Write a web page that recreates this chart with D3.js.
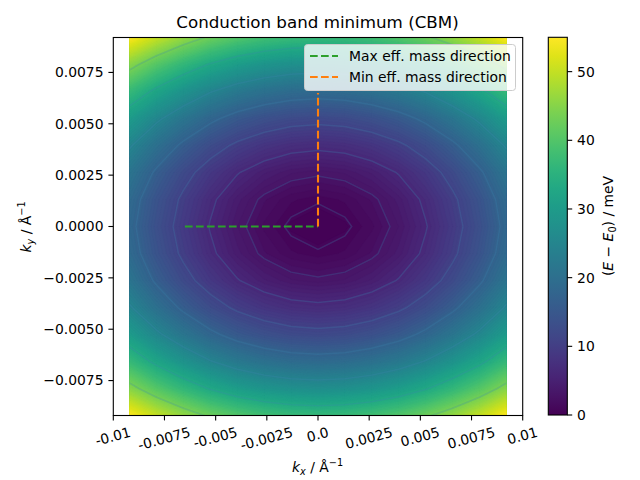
<!DOCTYPE html>
<html><head><meta charset="utf-8">
<script src="https://cdn.jsdelivr.net/npm/d3@7"></script>
<style>body{margin:0;background:#fff} text{font-family:"DejaVu Sans",sans-serif;fill:#000}</style>
</head><body><svg id="c" width="640" height="480"></svg>
<script>
// ---- data ----
const kxGrid = [-0.0092,-0.007886,-0.006571,-0.005257,-0.003943,-0.002629,-0.001314,0,0.001314,0.002629,0.003943,0.005257,0.006571,0.007886,0.0092];
const kyGrid = [-0.0092,-0.007886,-0.006571,-0.005257,-0.003943,-0.002629,-0.001314,0,0.001314,0.002629,0.003943,0.005257,0.006571,0.007886,0.0092];
// energy (meV), rows follow kyGrid, columns follow kxGrid
const energy = [
 [54.9,50.1,46.1,42.7,40.1,38.3,37.2,36.8,37.2,38.3,40.1,42.7,46.1,50.1,54.9],
 [45.1,40.3,36.3,32.9,30.3,28.5,27.4,27.0,27.4,28.5,30.3,32.9,36.3,40.3,45.1],
 [36.9,32.1,28.1,24.7,22.1,20.3,19.2,18.8,19.2,20.3,22.1,24.7,28.1,32.1,36.9],
 [30.1,25.3,21.3,17.9,15.3,13.5,12.4,12.0,12.4,13.5,15.3,17.9,21.3,25.3,30.1],
 [24.9,20.1,16.1,12.7,10.1,8.3,7.2,6.8,7.2,8.3,10.1,12.7,16.1,20.1,24.9],
 [21.1,16.3,12.3,8.9,6.3,4.5,3.4,3.0,3.4,4.5,6.3,8.9,12.3,16.3,21.1],
 [18.9,14.1,10.1,6.7,4.1,2.3,1.2,0.8,1.2,2.3,4.1,6.7,10.1,14.1,18.9],
 [18.1,13.3,9.3,5.9,3.3,1.5,0.4,0.0,0.4,1.5,3.3,5.9,9.3,13.3,18.1],
 [18.9,14.1,10.1,6.7,4.1,2.3,1.2,0.8,1.2,2.3,4.1,6.7,10.1,14.1,18.9],
 [21.1,16.3,12.3,8.9,6.3,4.5,3.4,3.0,3.4,4.5,6.3,8.9,12.3,16.3,21.1],
 [24.9,20.1,16.1,12.7,10.1,8.3,7.2,6.8,7.2,8.3,10.1,12.7,16.1,20.1,24.9],
 [30.1,25.3,21.3,17.9,15.3,13.5,12.4,12.0,12.4,13.5,15.3,17.9,21.3,25.3,30.1],
 [36.9,32.1,28.1,24.7,22.1,20.3,19.2,18.8,19.2,20.3,22.1,24.7,28.1,32.1,36.9],
 [45.1,40.3,36.3,32.9,30.3,28.5,27.4,27.0,27.4,28.5,30.3,32.9,36.3,40.3,45.1],
 [54.9,50.1,46.1,42.7,40.1,38.3,37.2,36.8,37.2,38.3,40.1,42.7,46.1,50.1,54.9]
];
const contourLevels = [0.68, 2.72, 6.11, 10.86, 16.98, 24.44, 33.27, 43.46];
const energyMax = 55;
const maxMassKx = [-0.0065, 0], maxMassKy = [0, 0];
const minMassKx = [0, 0], minMassKy = [0, 0.0065];
const xTicks = [-0.01,-0.0075,-0.005,-0.0025,0,0.0025,0.005,0.0075,0.01];
const xTickLabels = ["-0.01","-0.0075","-0.005","-0.0025","0.0","0.0025","0.005","0.0075","0.01"];
const yTicks = [-0.0075,-0.005,-0.0025,0,0.0025,0.005,0.0075];
const yTickLabels = ["\u22120.0075","\u22120.0050","\u22120.0025","0.0000","0.0025","0.0050","0.0075"];
const cbarTicks = [0,10,20,30,40,50];
const legendLabels = ["Max eff. mass direction","Min eff. mass direction"];
const legendColors = ["#2ca02c","#ff7f0e"];

// ---- layout ----
const L = 113.3, R = 522.7, T = 37.5, B = 415.5;
const FS = 13.9;
const svg = d3.select("#c");
const x = d3.scaleLinear([-0.01, 0.01], [L, R]);
const y = d3.scaleLinear([-0.0092, 0.0092], [B, T]);
const nx = kxGrid.length, ny = kyGrid.length;
const gx = d3.scaleLinear([0.5, nx - 0.5], [x(kxGrid[0]), x(kxGrid[nx - 1])]);
const gy = d3.scaleLinear([0.5, ny - 0.5], [y(kyGrid[0]), y(kyGrid[ny - 1])]);
const path = d3.geoPath(d3.geoTransform({point(px, py) { this.stream.point(gx(px), gy(py)); }}));
const flat = energy.flat();

const defs = svg.append("defs");
defs.append("clipPath").attr("id", "dclip").append("rect")
  .attr("x", x(kxGrid[0])).attr("y", y(kyGrid[ny - 1]))
  .attr("width", x(kxGrid[nx - 1]) - x(kxGrid[0]))
  .attr("height", y(kyGrid[0]) - y(kyGrid[ny - 1]));

const color = d3.scaleSequential(d3.interpolateViridis).domain([0, energyMax]);
const step = energyMax / 100;
const fillThr = d3.range(0, energyMax, step);
const fills = d3.contours().size([nx, ny]).thresholds(fillThr)(flat);
const gData = svg.append("g").attr("clip-path", "url(#dclip)");
gData.selectAll("path.f").data(fills).join("path").attr("class", "f")
  .attr("d", path).attr("fill", d => color(d.value + step / 2))
  .attr("stroke", d => color(d.value + step / 2)).attr("stroke-width", 0.3);

const lines = d3.contours().size([nx, ny]).thresholds(contourLevels)(flat);
gData.selectAll("path.l").data(lines).join("path").attr("class", "l")
  .attr("d", path).attr("fill", "none").attr("stroke", "#3a86b0")
  .attr("stroke-opacity", 0.25).attr("stroke-width", 1.5);

// direction lines
const ln = d3.line().x(d => x(d[0])).y(d => y(d[1]));
svg.append("path").attr("d", ln(d3.zip(maxMassKx, maxMassKy))).attr("fill", "none")
  .attr("stroke", legendColors[0]).attr("stroke-width", 2.08).attr("stroke-dasharray", "7.7,3.3");
svg.append("path").attr("d", ln(d3.zip(minMassKx, minMassKy))).attr("fill", "none")
  .attr("stroke", legendColors[1]).attr("stroke-width", 2.08).attr("stroke-dasharray", "7.7,3.3");

// spines
svg.append("rect").attr("x", L).attr("y", T).attr("width", R - L).attr("height", B - T)
  .attr("fill", "none").attr("stroke", "#000").attr("stroke-width", 1.1);

// x ticks
const xg = svg.append("g");
xTicks.forEach((t, i) => {
  const px = x(t);
  xg.append("line").attr("x1", px).attr("x2", px).attr("y1", B).attr("y2", B + 4.9).attr("stroke", "#000").attr("stroke-width", 1.1);
  const tx = xg.append("text").attr("font-size", FS).attr("text-anchor", "middle").attr("dy", "0.27em").text(xTickLabels[i]);
  const w = tx.node().getComputedTextLength();
  const a = 15 * Math.PI / 180;
  const bh = w * Math.sin(a) + 15.5 * Math.cos(a);
  const cy = B + 9.8 + bh / 2;
  tx.attr("transform", `translate(${px},${cy}) rotate(-15)`);
});
// y ticks
yTicks.forEach((t, i) => {
  const py = y(t);
  svg.append("line").attr("x1", L - 4.9).attr("x2", L).attr("y1", py).attr("y2", py).attr("stroke", "#000").attr("stroke-width", 1.1);
  svg.append("text").attr("x", L - 9.8).attr("y", py).attr("dy", "0.35em").attr("font-size", FS)
    .attr("text-anchor", "end").text(yTickLabels[i]);
});

// axis labels
function kLabel(g, sub) {
  g.append("tspan").attr("font-style", "italic").text("k");
  g.append("tspan").attr("font-style", "italic").attr("font-size", FS * 0.7).attr("dy", 3).text(sub);
  g.append("tspan").attr("dy", -3).text(" / \u00C5");
  g.append("tspan").attr("font-size", FS * 0.7).attr("dy", -6).text("\u22121");
}
const xl = svg.append("text").attr("x", 317.5).attr("y", 472).attr("font-size", FS).attr("text-anchor", "middle");
kLabel(xl, "x");
const yl = svg.append("text").attr("transform", "translate(31,227) rotate(-90)").attr("font-size", FS).attr("text-anchor", "middle");
kLabel(yl, "y");

// title
svg.append("text").attr("x", 317.5).attr("y", 28).attr("font-size", 16.7).attr("text-anchor", "middle")
  .text("Conduction band minimum (CBM)");

// legend
const lg = svg.append("g");
lg.append("rect").attr("x", 304.5).attr("y", 44.5).attr("width", 211).attr("height", 46).attr("rx", 3)
  .attr("fill", "#fff").attr("fill-opacity", 0.8).attr("stroke", "#cccccc").attr("stroke-width", 1);
legendLabels.forEach((lab, i) => {
  const yy = 56 + i * 21;
  lg.append("line").attr("x1", 310).attr("x2", 338).attr("y1", yy).attr("y2", yy)
    .attr("stroke", legendColors[i]).attr("stroke-width", 2.08).attr("stroke-dasharray", "7.7,3.3");
  lg.append("text").attr("x", 349).attr("y", yy + 5).attr("font-size", FS).text(lab);
});

// colorbar
const cL = 548.3, cR = 567.3, cT = 37.3, cB = 415;
const cy = d3.scaleLinear([0, energyMax], [cB, cT]);
const grad = defs.append("linearGradient").attr("id", "vg").attr("x1", 0).attr("y1", 1).attr("x2", 0).attr("y2", 0);
d3.range(0, 1.0001, 0.05).forEach(s => grad.append("stop").attr("offset", s).attr("stop-color", d3.interpolateViridis(s)));
svg.append("rect").attr("x", cL).attr("y", cT).attr("width", cR - cL).attr("height", cB - cT).attr("fill", "url(#vg)");
svg.append("rect").attr("x", cL).attr("y", cT).attr("width", cR - cL).attr("height", cB - cT)
  .attr("fill", "none").attr("stroke", "#000").attr("stroke-width", 1.1);
cbarTicks.forEach(t => {
  const py = cy(t);
  svg.append("line").attr("x1", cR).attr("x2", cR + 4.9).attr("y1", py).attr("y2", py).attr("stroke", "#000").attr("stroke-width", 1.1);
  svg.append("text").attr("x", cR + 9.8).attr("y", py).attr("dy", "0.35em").attr("font-size", FS).text(t);
});
const cl = svg.append("text").attr("transform", "translate(613,226) rotate(-90)").attr("font-size", FS).attr("text-anchor", "middle");
cl.append("tspan").text("(");
cl.append("tspan").attr("font-style", "italic").text("E");
cl.append("tspan").text(" \u2212 ");
cl.append("tspan").attr("font-style", "italic").text("E");
cl.append("tspan").attr("font-size", FS * 0.7).attr("dy", 3).text("0");
cl.append("tspan").attr("dy", -3).text(") / meV");
</script></body></html>
